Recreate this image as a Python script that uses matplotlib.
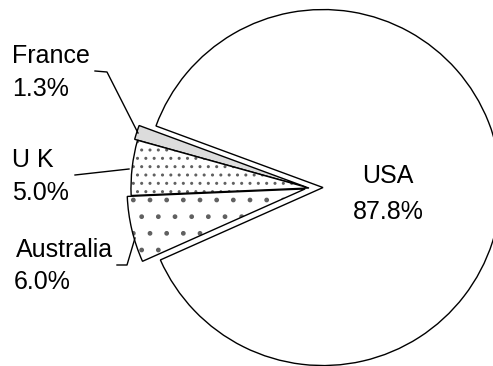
import matplotlib
matplotlib.use("Agg")
import matplotlib.pyplot as plt
from matplotlib.patches import Wedge

countries = ["USA", "France", "U K", "Australia"]
shares = [87.8, 1.3, 5.0, 6.0]
pct_labels = ["87.8%", "1.3%", "5.0%", "6.0%"]

plt.rcParams['font.family'] = ['Liberation Sans', 'DejaVu Sans']
plt.rcParams['hatch.linewidth'] = 1.0

W, H = 493, 366
fig = plt.figure(figsize=(W / 100, H / 100), dpi=100)
ax = fig.add_axes([0, 0, 1, 1])

cx, cy = 309, H - 188
R = 178
wedges, _ = ax.pie(shares, startangle=204, counterclock=True,
                   center=(cx, cy), radius=R,
                   explode=[14, 3, 0, 4],
                   wedgeprops=dict(edgecolor='black', linewidth=1.0))
styles = [('white', None), ('#dcdcdc', None), ('white', '..'), ('white', '.')]
for w, (fc, hat) in zip(wedges, styles):
    w.set_facecolor(fc)
    if hat:
        w.set_hatch(hat)
        w.set_edgecolor('#606060')
        w.set_linewidth(0)
        outline = Wedge(w.center, w.r, w.theta1, w.theta2, fill=False,
                        edgecolor='black', linewidth=1.0, zorder=w.get_zorder() + 0.1)
        ax.add_patch(outline)

ax.set_xlim(0, W)
ax.set_ylim(0, H)
ax.set_aspect('equal')
ax.axis('off')

def py(y):
    return H - y

fs = 18
# USA label
ax.text(388, py(176), countries[0], fontsize=fs, ha='center', va='center')
ax.text(388, py(212), pct_labels[0], fontsize=fs, ha='center', va='center')
# France
ax.text(12, py(56), countries[1], fontsize=fs, ha='left', va='center')
ax.text(12, py(89), pct_labels[1], fontsize=fs, ha='left', va='center')
# UK
ax.text(12, py(160), countries[2], fontsize=fs, ha='left', va='center')
ax.text(12, py(193), pct_labels[2], fontsize=fs, ha='left', va='center')
# Australia
ax.text(16, py(250), countries[3], fontsize=fs, ha='left', va='center')
ax.text(14, py(282), pct_labels[3], fontsize=fs, ha='left', va='center')

# leader lines
lk = dict(color='black', linewidth=1.0)
ax.plot([95, 107, 138], [py(71), py(72), py(133)], **lk)
ax.plot([75, 129], [py(175), py(169)], **lk)
ax.plot([117, 127, 135], [py(265), py(265), py(238)], **lk)

fig.savefig("out.png", dpi=100)
